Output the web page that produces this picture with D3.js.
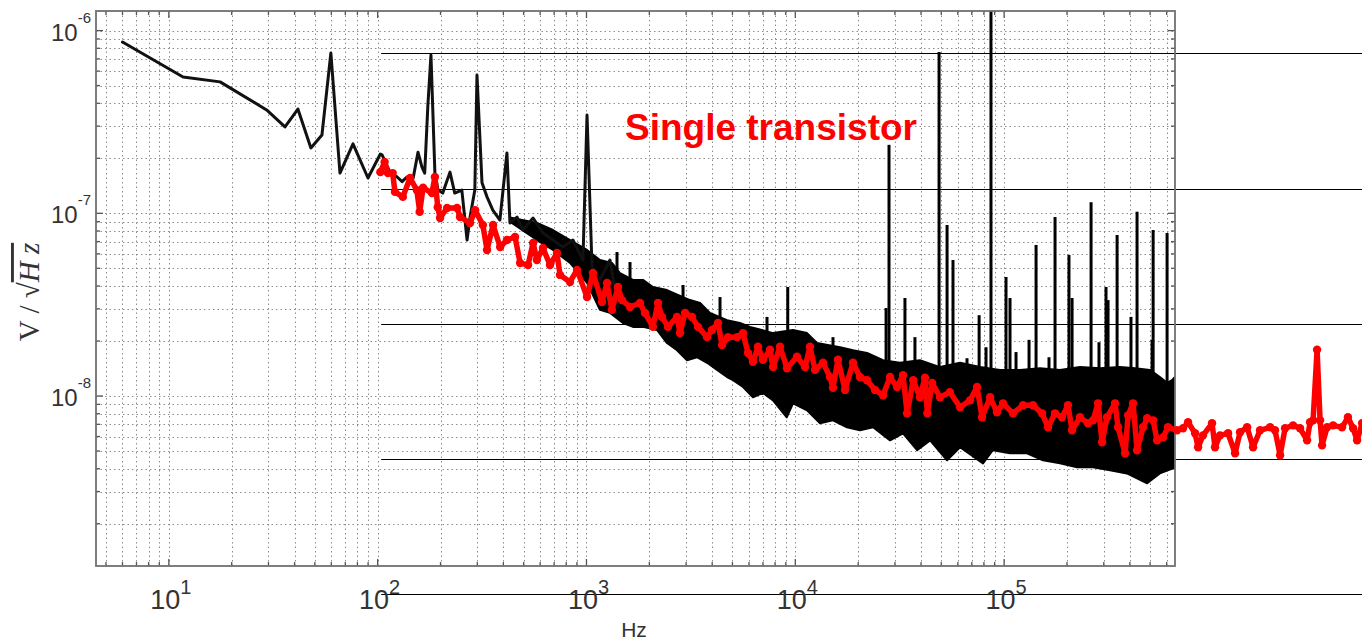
<!DOCTYPE html>
<html><head><meta charset="utf-8">
<script src="https://cdn.jsdelivr.net/npm/d3@7"></script>
<style>
body{margin:0;background:#fff;}
svg{display:block;}
text{font-family:"Liberation Sans",Arial,sans-serif;}
</style></head><body>
<svg id="chart" width="1362" height="643"></svg>
<script>
// ---------------- data (Hz, V/sqrt(Hz)) ----------------
const blackFreq = [6.0, 11.7, 17.6, 29.4, 36.0, 41.5, 47.9, 54.1, 59.7, 66.0, 76.2, 89.9, 103, 105, 114.5, 124, 131, 138, 148, 156, 163, 168, 174, 180, 188, 194.5, 205, 222, 234, 253, 268, 277, 292, 299, 316, 334, 356, 385, 416, 430, 465, 496, 555, 619, 691, 771, 861, 962, 1006, 1063, 1160, 1296, 1415];
const blackVal = [8.66e-7, 5.57e-7, 5.24e-7, 3.68e-7, 2.97e-7, 3.72e-7, 2.28e-7, 2.68e-7, 7.54e-7, 1.66e-7, 2.40e-7, 1.56e-7, 2.11e-7, 2.09e-7, 1.68e-7, 1.58e-7, 1.49e-7, 1.58e-7, 1.56e-7, 2.16e-7, 1.79e-7, 1.66e-7, 3.91e-7, 7.35e-7, 1.66e-7, 1.34e-7, 1.29e-7, 1.68e-7, 1.29e-7, 1.34e-7, 7.14e-8, 9.54e-8, 1.34e-7, 5.71e-7, 1.47e-7, 1.23e-7, 1.04e-7, 9.19e-8, 2.14e-7, 8.85e-8, 9.54e-8, 8.10e-8, 9.42e-8, 7.80e-8, 7.14e-8, 6.54e-8, 7.14e-8, 5.55e-8, 3.45e-7, 5.08e-8, 4.32e-8, 5.55e-8, 3.07e-8];

// dense noise band of the black trace: upper and lower envelope
const bandUpperFreq = [430, 579, 691, 834, 1006, 1160, 1324, 1447, 1670, 1864, 2080, 2430, 3130, 3500, 3900, 4710, 5430, 6070, 7820, 9750, 11380, 12700, 16370, 18890, 22050, 26300, 31700, 39500, 49300, 61500, 76700, 95500, 119100, 148600, 185100, 230800, 288000, 359000, 424000, 499000, 557000, 603000, 637000, 658000];
const bandUpperVal = [9.5e-8, 8.85e-8, 8.10e-8, 7.14e-8, 6.30e-8, 5.55e-8, 5.35e-8, 4.71e-8, 4.32e-8, 4.32e-8, 3.95e-8, 3.80e-8, 3.35e-8, 3.23e-8, 2.85e-8, 2.60e-8, 2.51e-8, 2.39e-8, 2.21e-8, 2.30e-8, 2.21e-8, 1.95e-8, 1.85e-8, 1.78e-8, 1.72e-8, 1.57e-8, 1.52e-8, 1.57e-8, 1.44e-8, 1.52e-8, 1.44e-8, 1.39e-8, 1.39e-8, 1.42e-8, 1.39e-8, 1.44e-8, 1.42e-8, 1.44e-8, 1.42e-8, 1.39e-8, 1.27e-8, 1.18e-8, 1.22e-8, 1.27e-8];
const bandLowerFreq = [430, 579, 691, 834, 1006, 1160, 1296, 1496, 1670, 1864, 2176, 2430, 2714, 3030, 3380, 3780, 4220, 4710, 5030, 5620, 6270, 7000, 7820, 9100, 9750, 11380, 13130, 15150, 17680, 20400, 23570, 28430, 32800, 38300, 44200, 53300, 61500, 79200, 88300, 106700, 128700, 153500, 185100, 223500, 266500, 321500, 387000, 484000, 557000, 644000, 658000];
const bandLowerVal = [9.0e-8, 7.14e-8, 6.30e-8, 5.35e-8, 4.16e-8, 2.96e-8, 2.85e-8, 2.51e-8, 2.39e-8, 2.39e-8, 2.30e-8, 1.95e-8, 1.78e-8, 1.57e-8, 1.63e-8, 1.52e-8, 1.39e-8, 1.27e-8, 1.22e-8, 1.12e-8, 9.84e-9, 1.04e-8, 9.47e-9, 7.65e-9, 9.12e-9, 8.35e-9, 7.09e-9, 7.36e-9, 6.74e-9, 6.49e-9, 6.74e-9, 5.72e-9, 6.25e-9, 5.05e-9, 5.72e-9, 4.45e-9, 5.24e-9, 4.28e-9, 5.05e-9, 4.86e-9, 4.86e-9, 4.45e-9, 4.28e-9, 4.07e-9, 4.07e-9, 3.92e-9, 3.77e-9, 3.33e-9, 3.77e-9, 4.02e-9, 4.02e-9];

// narrow spectral lines rising out of the band
const spikeFreq = [1400, 1616, 2900, 4360, 7320, 9200, 15150, 27200, 28100, 33500, 37400, 48800, 53300, 56900, 66400, 75900, 81900, 86500, 102100, 106700, 114000, 131600, 142200, 164000, 175300, 204400, 211500, 260800, 284600, 307500, 314500, 347500, 405000, 433000, 511000, 517000, 603000];
const spikePeak = [6.14e-8, 5.41e-8, 4.05e-8, 3.48e-8, 2.71e-8, 3.95e-8, 2.10e-8, 3.03e-8, 2.37e-7, 3.44e-8, 2.10e-8, 7.64e-7, 8.63e-8, 5.55e-8, 1.61e-8, 2.77e-8, 1.85e-8, 1.47e-6, 4.48e-8, 3.44e-8, 1.74e-8, 2.03e-8, 6.71e-8, 1.63e-8, 9.54e-8, 5.91e-8, 3.44e-8, 1.15e-7, 1.97e-8, 3.95e-8, 3.35e-8, 7.61e-8, 2.71e-8, 1.02e-7, 2.03e-8, 8.10e-8, 7.80e-8];

// red "Single transistor" trace
const redFreq = [103, 108, 112, 118, 121, 132, 143, 154, 159, 165, 182, 188, 194, 199, 215, 240, 248, 277, 293, 319, 334, 357, 386, 416, 455, 481, 525, 555, 579, 619, 669, 722, 747, 834, 901, 1006, 1074, 1187, 1254, 1324, 1415, 1479, 1616, 1804, 1906, 2080, 2200, 2300, 2456, 2714, 2805, 2964, 3202, 3421, 3778, 3992, 4266, 4459, 4763, 5259, 5620, 5937, 6270, 6629, 7000, 7566, 7820, 8450, 9130, 10190, 11130, 11760, 12430, 13570, 14660, 15150, 16010, 17300, 18890, 20400, 22050, 24080, 26300, 28430, 30700, 32800, 34300, 36700, 39500, 41800, 42900, 45200, 49300, 55000, 61500, 68700, 74200, 78400, 85700, 92400, 98800, 110300, 123200, 137500, 151900, 162300, 175300, 189300, 202200, 211500, 230800, 252000, 266500, 281700, 294500, 311000, 339800, 351200, 379500, 392300, 414500, 433000, 462800, 484000, 517000, 540000, 577000, 609000, 673000, 719000, 760000, 821000, 849000, 896000, 990000, 1.023e6, 1.081e6, 1.181e6, 1.276e6, 1.348e6, 1.457e6, 1.556e6, 1.681e6, 1.878e6, 1.982e6, 2.097e6, 2.215e6, 2.419e6, 2.612e6, 2.823e6, 2.918e6, 3.016e6, 3.152e6, 3.258e6, 3.330e6, 3.520e6, 3.760e6, 4.150e6, 4.430e6, 4.690e6, 4.900e6, 5.180e6];
const redVal = [1.68e-7, 1.91e-7, 1.66e-7, 1.66e-7, 1.31e-7, 1.23e-7, 1.56e-7, 1.34e-7, 1.02e-7, 1.38e-7, 1.29e-7, 1.58e-7, 1.08e-7, 9.43e-8, 1.07e-7, 1.07e-7, 9.55e-8, 8.85e-8, 1.04e-7, 8.63e-8, 6.30e-8, 8.63e-8, 6.54e-8, 7.14e-8, 7.42e-8, 5.35e-8, 5.21e-8, 6.88e-8, 5.55e-8, 6.46e-8, 5.21e-8, 6.06e-8, 4.60e-8, 4.21e-8, 4.90e-8, 3.48e-8, 4.71e-8, 3.27e-8, 4.16e-8, 2.96e-8, 3.95e-8, 3.35e-8, 3.07e-8, 3.23e-8, 2.85e-8, 2.39e-8, 3.23e-8, 2.71e-8, 2.39e-8, 2.71e-8, 2.21e-8, 2.85e-8, 2.71e-8, 2.39e-8, 2.10e-8, 2.30e-8, 2.51e-8, 1.90e-8, 2.10e-8, 2.10e-8, 2.21e-8, 1.72e-8, 1.54e-8, 1.86e-8, 1.58e-8, 1.79e-8, 1.44e-8, 1.86e-8, 1.42e-8, 1.64e-8, 1.44e-8, 1.86e-8, 1.39e-8, 1.52e-8, 1.27e-8, 1.11e-8, 1.58e-8, 1.08e-8, 1.52e-8, 1.27e-8, 1.22e-8, 1.08e-8, 1.01e-8, 1.27e-8, 1.12e-8, 1.30e-8, 8.04e-9, 1.22e-8, 9.84e-9, 1.26e-8, 8.04e-9, 1.18e-8, 9.84e-9, 1.05e-8, 8.67e-9, 9.47e-9, 1.12e-8, 7.65e-9, 9.84e-9, 8.14e-9, 9.12e-9, 8.04e-9, 8.90e-9, 8.90e-9, 8.04e-9, 6.74e-9, 8.04e-9, 7.65e-9, 8.90e-9, 6.49e-9, 7.65e-9, 7.09e-9, 7.36e-9, 9.12e-9, 5.58e-9, 7.65e-9, 9.12e-9, 6.74e-9, 4.86e-9, 7.84e-9, 9.12e-9, 5.05e-9, 6.74e-9, 7.55e-9, 7.36e-9, 5.72e-9, 5.94e-9, 6.74e-9, 6.49e-9, 6.66e-9, 7.18e-9, 6.25e-9, 5.24e-9, 6.09e-9, 7.09e-9, 5.24e-9, 6.09e-9, 6.25e-9, 4.86e-9, 6.33e-9, 6.74e-9, 5.24e-9, 6.49e-9, 6.74e-9, 6.49e-9, 4.74e-9, 6.66e-9, 6.91e-9, 6.66e-9, 5.72e-9, 7.18e-9, 7.36e-9, 1.79e-8, 7.36e-9, 5.37e-9, 6.74e-9, 6.91e-9, 6.74e-9, 7.65e-9, 6.66e-9, 5.72e-9, 7.09e-9];

// horizontal rules of the pasted-over panel (in V/sqrt(Hz) of the main axes)
const overlayLevels = [7.54e-7, 1.36e-7, 2.48e-8, 4.50e-9, 8.22e-10];
const overlayStartFreq = 104;

// axis ticks
const xMajorExp = [1, 2, 3, 4, 5];
const yMajorExp = [-6, -7, -8];
const xLabel = "Hz";
const annotation = "Single transistor";

// ---------------- layout ----------------
const W = 1362, H = 643;
const P = {left: 96, right: 1175, top: 11, bottom: 566};
const x = d3.scaleLog().domain([4.48, 6.58e5]).range([P.left, P.right]);
const y = d3.scaleLog().domain([1.28e-6, 1.174e-9]).range([P.top, P.bottom]);

const svg = d3.select("#chart");
svg.append("rect").attr("width", W).attr("height", H).attr("fill", "#fff");
svg.append("defs").append("clipPath").attr("id", "plotclip")
  .append("rect").attr("x", P.left).attr("y", P.top)
  .attr("width", P.right - P.left).attr("height", P.bottom - P.top);

// grid values
const xGrid = [], yGrid = [];
for (let k = 0; k <= 5; k++) for (let m = 1; m <= 9; m++) {
  const v = m * Math.pow(10, k);
  if (v >= x.domain()[0] && v <= x.domain()[1]) xGrid.push({v, major: m === 1});
}
for (let k = -9; k <= -6; k++) for (let m = 1; m <= 9; m++) {
  const v = m * Math.pow(10, k);
  if (v <= y.domain()[0] && v >= y.domain()[1]) yGrid.push({v, major: m === 1});
}

const grid = svg.append("g").attr("stroke", "#8c8c8c").attr("stroke-width", 1)
  .attr("stroke-dasharray", "1.5,3").attr("fill", "none");
grid.selectAll("line.xg").data(xGrid).join("line")
  .attr("x1", d => Math.round(x(d.v)) + 0.5).attr("x2", d => Math.round(x(d.v)) + 0.5)
  .attr("y1", P.top).attr("y2", P.bottom);
grid.selectAll("line.yg").data(yGrid).join("line")
  .attr("y1", d => Math.round(y(d.v)) + 0.5).attr("y2", d => Math.round(y(d.v)) + 0.5)
  .attr("x1", P.left).attr("x2", P.right);

// ticks on all four sides (inward)
const tk = svg.append("g").attr("stroke", "#555").attr("stroke-width", 1.3);
xGrid.forEach(d => {
  const L = d.major ? 7 : 4, xx = x(d.v);
  tk.append("line").attr("x1", xx).attr("x2", xx).attr("y1", P.bottom).attr("y2", P.bottom - L);
  tk.append("line").attr("x1", xx).attr("x2", xx).attr("y1", P.top).attr("y2", P.top + L);
});
yGrid.forEach(d => {
  const L = d.major ? 7 : 4, yy = y(d.v);
  tk.append("line").attr("y1", yy).attr("y2", yy).attr("x1", P.left).attr("x2", P.left + L);
  tk.append("line").attr("y1", yy).attr("y2", yy).attr("x1", P.right).attr("x2", P.right - L);
});

// overlay horizontal rules
svg.append("g").selectAll("line").data(overlayLevels).join("line")
  .attr("x1", x(overlayStartFreq)).attr("x2", W)
  .attr("y1", d => Math.round(y(d)) + 0.5).attr("y2", d => Math.round(y(d)) + 0.5)
  .attr("stroke", "#000").attr("stroke-width", 1);

// black trace
const gBlack = svg.append("g").attr("clip-path", "url(#plotclip)");
const upperPts = bandUpperFreq.map((f, i) => [f, bandUpperVal[i]]);
const lowerPts = bandLowerFreq.map((f, i) => [f, bandLowerVal[i]]);
const bandPoly = upperPts.concat(lowerPts.slice().reverse());
gBlack.append("path")
  .attr("d", d3.line().x(d => x(d[0])).y(d => y(d[1]))(bandPoly) + "Z")
  .attr("fill", "#000").attr("stroke", "#000").attr("stroke-width", 2).attr("stroke-linejoin", "round");

function envAt(f, fs, vs) {
  if (f <= fs[0]) return vs[0];
  for (let i = 0; i < fs.length - 1; i++) {
    if (f <= fs[i + 1]) {
      const t = (Math.log(f) - Math.log(fs[i])) / (Math.log(fs[i + 1]) - Math.log(fs[i]));
      return Math.exp(Math.log(vs[i]) + t * (Math.log(vs[i + 1]) - Math.log(vs[i])));
    }
  }
  return vs[vs.length - 1];
}
gBlack.selectAll("line.spike").data(spikeFreq).join("line")
  .attr("x1", d => x(d)).attr("x2", d => x(d))
  .attr("y1", (d, i) => y(spikePeak[i]))
  .attr("y2", d => y(envAt(d, bandUpperFreq, bandUpperVal)) + 6)
  .attr("stroke", "#000").attr("stroke-width", 3);

gBlack.append("path")
  .datum(blackFreq.map((f, i) => [f, blackVal[i]]))
  .attr("d", d3.line().x(d => x(d[0])).y(d => y(d[1])))
  .attr("fill", "none").attr("stroke", "#111").attr("stroke-width", 3)
  .attr("stroke-linejoin", "round").attr("stroke-linecap", "round");

// frame
svg.append("rect").attr("x", P.left).attr("y", P.top)
  .attr("width", P.right - P.left).attr("height", P.bottom - P.top)
  .attr("fill", "none").attr("stroke", "#707070").attr("stroke-width", 1.8);

// red trace
const redPts = redFreq.map((f, i) => [f, redVal[i]]);
svg.append("path").datum(redPts)
  .attr("d", d3.line().x(d => x(d[0])).y(d => y(d[1])))
  .attr("fill", "none").attr("stroke", "#ff0000").attr("stroke-width", 5.5)
  .attr("stroke-linejoin", "round");
svg.append("g").selectAll("circle").data(redPts).join("circle")
  .attr("cx", d => x(d[0])).attr("cy", d => y(d[1])).attr("r", 4.2).attr("fill", "#ff0000");

// tick labels
const lab = svg.append("g").attr("fill", "#333");
xMajorExp.forEach(e => {
  const t = lab.append("text").attr("x", x(Math.pow(10, e)) + 2).attr("y", 609)
    .attr("text-anchor", "middle").attr("font-size", 27);
  t.append("tspan").text("10");
  t.append("tspan").attr("dy", -15).attr("font-size", 20).text(String(e));
});
yMajorExp.forEach(e => {
  const t = lab.append("text").attr("x", 91).attr("y", y(Math.pow(10, e)) + 10)
    .attr("text-anchor", "end").attr("font-size", 24);
  t.append("tspan").text("10");
  t.append("tspan").attr("dy", -18).attr("font-size", 15).text("-" + String(-e));
});

// axis titles
svg.append("text").attr("x", 634).attr("y", 637).attr("text-anchor", "middle")
  .attr("font-size", 21).attr("fill", "#333").text(xLabel);
const yt = svg.append("text").attr("transform", "translate(39,292) rotate(-90)")
  .attr("text-anchor", "middle").attr("fill", "#333")
  .style("font-family", '"Liberation Serif","DejaVu Serif",serif').attr("font-size", 29);
yt.append("tspan").text("V");
yt.append("tspan").text(" / \u221A");
yt.append("tspan").attr("font-style", "italic").style("text-decoration", "overline").text("H z");

// annotation
svg.append("text").attr("x", 625).attr("y", 140).attr("fill", "#ff0000")
  .attr("font-size", 37).attr("font-weight", "bold").text(annotation);
</script>
</body></html>
